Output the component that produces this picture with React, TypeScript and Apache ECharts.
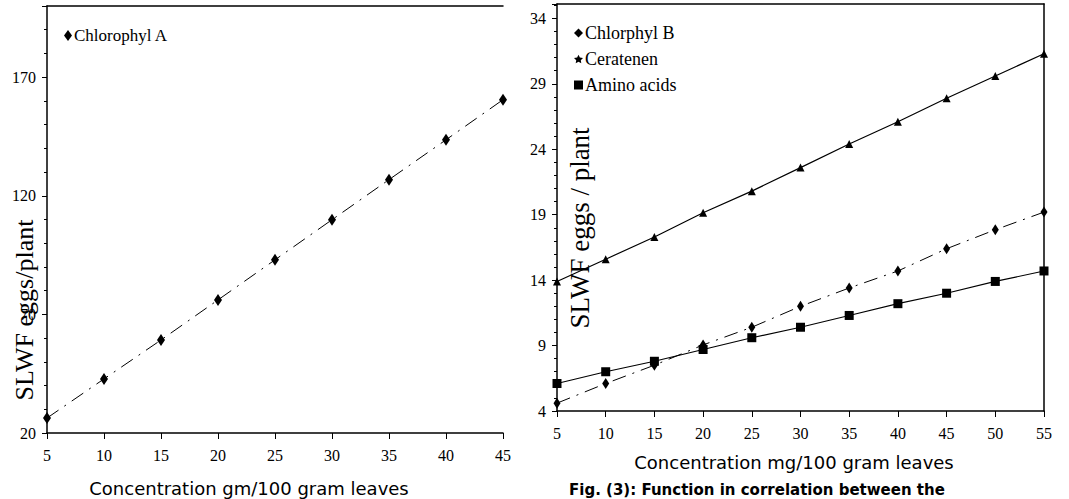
import React, { useEffect, useRef } from "react";
import * as echarts from "echarts";

const concA = [5, 10, 15, 20, 25, 30, 35, 40, 45];
const chlorophylA = [26.3, 42.8, 59.2, 76.1, 93.0, 109.9, 126.8, 143.6, 160.5];

const concB = [5, 10, 15, 20, 25, 30, 35, 40, 45, 50, 55];
const chlorphylB = [4.6, 6.1, 7.5, 9.05, 10.4, 12.0, 13.4, 14.7, 16.4, 17.85, 19.2];
const ceratenen = [13.9, 15.6, 17.3, 19.15, 20.8, 22.6, 24.4, 26.1, 27.9, 29.6, 31.3];
const aminoAcids = [6.1, 7.0, 7.8, 8.7, 9.6, 10.4, 11.3, 12.2, 13.0, 13.9, 14.7];

const leftXTitle = "Concentration gm/100 gram leaves";
const rightXTitle = "Concentration mg/100 gram leaves";
const leftYTitle = "SLWF eggs/plant";
const rightYTitle = "SLWF eggs / plant";
const caption = "Fig. (3): Function in correlation between the";

const SERIF = "'Liberation Serif', 'Times New Roman', serif";
const SANS = "'DejaVu Sans', Verdana, sans-serif";
const STAR = "path://M0,-10 L2.9,-4 L9.5,-3.1 L4.8,1.5 L5.9,8.1 L0,5 L-5.9,8.1 L-4.8,1.5 L-9.5,-3.1 L-2.9,-4Z";

const pairs = (xs: number[], ys: number[]) => xs.map((x, i) => [x, ys[i]]);

export default function App() {
  const ref = useRef<HTMLDivElement>(null);
  useEffect(() => {
    if (!ref.current) return;
    const chart = echarts.init(ref.current, null, { renderer: "svg" });
    const axisLine = { show: true, lineStyle: { color: "#000", width: 1.5 } };
    const label = { color: "#000", fontFamily: SERIF, fontSize: 16 };
    const xBase = (grid: number, min: number, max: number) => ({
      type: "value",
      gridIndex: grid,
      min,
      max,
      interval: 5,
      axisLine,
      axisTick: { show: true, length: 6, lineStyle: { color: "#000" } },
      axisLabel: { ...label, margin: 14 },
      splitLine: { show: false },
    });
    const frameX = (grid: number, min: number, max: number) => ({
      type: "value",
      gridIndex: grid,
      position: "top",
      min,
      max,
      axisLine,
      axisTick: { show: false },
      axisLabel: { show: false },
      splitLine: { show: false },
    });
    const yBase = (grid: number, min: number, max: number, interval: number) => ({
      type: "value",
      gridIndex: grid,
      min,
      max,
      interval,
      axisLine,
      axisTick: { show: true, length: 5, lineStyle: { color: "#000" } },
      minorTick: { show: true, splitNumber: 5, length: 3, lineStyle: { color: "#000" } },
      axisLabel: { ...label, margin: 11, showMaxLabel: false },
      splitLine: { show: false },
      minorSplitLine: { show: false },
    });
    const option: any = {
      animation: false,
      backgroundColor: "#fff",
      grid: [
        { left: 47, top: 6, width: 456, height: 427 },
        { left: 557, top: 4, width: 487, height: 407 },
      ],
      xAxis: [
        xBase(0, 5, 45),
        frameX(0, 5, 45),
        xBase(1, 5, 55),
        frameX(1, 5, 55),
      ],
      yAxis: [
        yBase(0, 20, 200, 50),
        yBase(1, 4, 35.1, 5),
        {
          type: "value",
          gridIndex: 1,
          position: "right",
          min: 4,
          max: 35.1,
          axisLine,
          axisTick: { show: false },
          axisLabel: { show: false },
          splitLine: { show: false },
        },
      ],
      legend: [
        {
          data: [{ name: "Chlorophyl A", icon: "diamond" }],
          left: 64,
          top: 27,
          padding: 0,
          itemWidth: 8,
          itemHeight: 11,
          textStyle: { color: "#000", fontFamily: SERIF, fontSize: 17, padding: [0, 0, 0, -3] },
        },
        {
          data: [
            { name: "Chlorphyl B", icon: "diamond" },
            { name: "Ceratenen", icon: STAR },
            { name: "Amino acids", icon: "rect" },
          ],
          orient: "vertical",
          left: 574,
          top: 24,
          padding: 0,
          itemGap: 8,
          itemWidth: 9,
          itemHeight: 9,
          textStyle: { color: "#000", fontFamily: SERIF, fontSize: 18, padding: [0, 0, 0, -3] },
        },
      ],
      series: [
        {
          name: "Chlorophyl A",
          type: "line",
          xAxisIndex: 0,
          yAxisIndex: 0,
          data: pairs(concA, chlorophylA),
          symbol: "diamond",
          symbolSize: [8, 12],
          itemStyle: { color: "#000" },
          lineStyle: { color: "#000", width: 1, type: [14, 7, 2, 7] },
        },
        {
          name: "Chlorphyl B",
          type: "line",
          xAxisIndex: 2,
          yAxisIndex: 1,
          data: pairs(concB, chlorphylB),
          symbol: "diamond",
          symbolSize: [7, 11],
          itemStyle: { color: "#000" },
          lineStyle: { color: "#000", width: 1, type: [14, 7, 2, 7] },
        },
        {
          name: "Ceratenen",
          type: "line",
          xAxisIndex: 2,
          yAxisIndex: 1,
          data: pairs(concB, ceratenen),
          symbol: "triangle",
          symbolSize: 8,
          itemStyle: { color: "#000" },
          lineStyle: { color: "#000", width: 1.2 },
        },
        {
          name: "Amino acids",
          type: "line",
          xAxisIndex: 2,
          yAxisIndex: 1,
          data: pairs(concB, aminoAcids),
          symbol: "rect",
          symbolSize: 9,
          itemStyle: { color: "#000" },
          lineStyle: { color: "#000", width: 1.2 },
        },
      ],
      graphic: [
        {
          type: "text",
          x: 24,
          y: 310,
          rotation: Math.PI / 2,
          style: { text: leftYTitle, fill: "#000", font: `26px ${SERIF}`, textAlign: "center", textVerticalAlign: "middle" },
        },
        {
          type: "text",
          x: 580,
          y: 228,
          rotation: Math.PI / 2,
          style: { text: rightYTitle, fill: "#000", font: `27px ${SERIF}`, textAlign: "center", textVerticalAlign: "middle" },
        },
        {
          type: "text",
          x: 249,
          y: 488,
          style: { text: leftXTitle, fill: "#000", font: `18px ${SANS}`, textAlign: "center", textVerticalAlign: "middle" },
        },
        {
          type: "text",
          x: 794,
          y: 462,
          style: { text: rightXTitle, fill: "#000", font: `18px ${SANS}`, textAlign: "center", textVerticalAlign: "middle" },
        },
        {
          type: "text",
          x: 569,
          y: 482,
          style: { text: caption, fill: "#000", font: `bold 15px ${SANS}`, textAlign: "left", textVerticalAlign: "top" },
        },
      ],
    };
    chart.setOption(option);
    return () => chart.dispose();
  }, []);
  return (
    <div
      ref={ref}
      style={{ position: "fixed", left: 0, top: 0, width: 1069, height: 499, background: "#fff" }}
    />
  );
}
